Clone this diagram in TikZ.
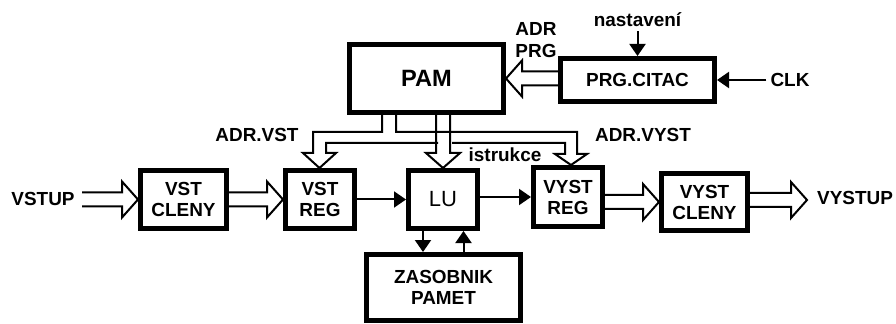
\documentclass[tikz,border=0pt]{standalone}
\usepackage{fontspec}
\setmainfont{Liberation Sans}
\usetikzlibrary{arrows.meta,calc}

\newcommand\busgap{5.25pt}
\newcommand\buslen{12pt}
\newcommand\buswid{13.5pt}

\tikzset{
  blok/.style={draw, line width=3.75pt, fill=white, inner sep=0pt, align=center,
    font=\bfseries\fontsize{14.2}{15.75}\selectfont},
  popis/.style={inner sep=3pt, align=center, font=\bfseries\fontsize{14.2}{17}\selectfont},
  wire/.style={line width=1.5pt},
  sig/.style={wire, -{Triangle[length=9pt,width=12pt]}},
  % hollow double-line bus arrows
  busr/.style={to path={let \p1=(\tikztostart), \p2=(\tikztotarget) in
    (\x1,\y2+\busgap) -- (\x2-\buslen,\y2+\busgap) -- (\x2-\buslen,\y2+\buswid) -- (\x2,\y2)
    -- (\x2-\buslen,\y2-\buswid) -- (\x2-\buslen,\y2-\busgap) -- (\x1,\y2-\busgap)}},
  busl/.style={to path={let \p1=(\tikztostart), \p2=(\tikztotarget) in
    (\x1,\y2+\busgap) -- (\x2+\buslen,\y2+\busgap) -- (\x2+\buslen,\y2+\buswid) -- (\x2,\y2)
    -- (\x2+\buslen,\y2-\buswid) -- (\x2+\buslen,\y2-\busgap) -- (\x1,\y2-\busgap)}},
  busd/.style={to path={let \p1=(\tikztostart), \p2=(\tikztotarget) in
    (\x2-\busgap,\y1) -- (\x2-\busgap,\y2-11.25pt) -- (\x2-12.75pt,\y2-11.25pt) -- (\x2,\y2)
    -- (\x2+12.75pt,\y2-11.25pt) -- (\x2+\busgap,\y2-11.25pt) -- (\x2+\busgap,\y1)}}
}

\begin{document}
\begin{tikzpicture}[x=0.75pt,y=0.75pt,yscale=-1,xscale=1]
\useasboundingbox (0,0) rectangle (896,324);

%Shape: Rectangle [PAM]
\node[blok, minimum width=154*0.75pt, minimum height=68*0.75pt,
  font=\bfseries\fontsize{17.7}{20}\selectfont] (pam) at (426.5,78.5) {PAM};
%Shape: Rectangle [PRG.CITAC]
\node[blok, minimum width=154*0.75pt, minimum height=43*0.75pt] (prg) at (637.5,80) {PRG.CITAC};
%Shape: Rectangle [VST CLENY]
\node[blok, minimum width=86*0.75pt, minimum height=58*0.75pt] (vstcl) at (183.5,199.5) {VST\\CLENY};
%Shape: Rectangle [VST REG]
\node[blok, minimum width=69*0.75pt, minimum height=58*0.75pt] (vstreg) at (320,199.5) {VST\\REG};
%Shape: Rectangle [LU]
\node[blok, minimum width=69*0.75pt, minimum height=58*0.75pt,
  font=\fontsize{16.5}{18}\selectfont] (lu) at (443,199.5) {LU};
%Shape: Rectangle [VYST REG]
\node[blok, minimum width=69*0.75pt, minimum height=59*0.75pt] (vystreg) at (568,197) {VYST\\REG};
%Shape: Rectangle [VYST CLENY]
\node[blok, minimum width=86*0.75pt, minimum height=57*0.75pt] (vystcl) at (704.5,202) {VYST\\CLENY};
%Shape: Rectangle [ZASOBNIK]
\node[blok, minimum width=154*0.75pt, minimum height=66*0.75pt] (zas) at (443.5,287.5) {ZASOBNIK\\PAMET};

% Text Node
\node[popis] (vstup) at (43,199) {VSTUP};
% Text Node
\node[popis] (vystup) at (855,198) {VYSTUP};
% Text Node
\node[popis] (nast) at (637.5,20) {nastavení};
% Text Node
\node[popis] (clk) at (790,80) {CLK};
% Text Node
\node[popis] (adrprg) at (536,40) {ADR\\PRG};
% Text Node
\node[popis] (adrvst) at (257,135) {ADR.VST};
% Text Node
\node[popis] (adrvyst) at (643,135) {ADR.VYST};
% Text Node
\node[popis] (istr) at (505,155) {istrukce};

\coordinate (vin) at (82,200);
\coordinate (vout) at (807,200);

%Buses
\draw[wire] (vin) to[busr] (vstcl.west);
\draw[wire] (vstcl.east) to[busr] (vstreg.west);
\draw[wire] (vystreg.east) to[busr] (vystcl.west);
\draw[wire] (vystcl.east) to[busr] (vout);
\draw[wire] (prg.west) to[busl] (pam.east);
\draw[wire] (lu.north |- pam.south) to[busd] (lu.north);

%Bus ADR.VST / ADR.VYST
\draw[wire] (382,115) -- (382,132) -- (313,132) -- (313,153) -- (303,153) -- (319.5,168)
  -- (336,153) -- (326,153) -- (326,143) -- (438,143);
\draw[wire] (452,143) -- (565,143) -- (565,154) -- (555,154) -- (571,165)
  -- (587,154) -- (577,154) -- (577,132) -- (396,132) -- (396,115);

%Signals
\draw[sig] (nast.south) -- (prg.north);
\draw[sig] (clk.west) -- (prg.east);
\draw[sig] (vstreg.east) -- (lu.west);
\draw[sig] (lu.east |- vystreg.west) -- (vystreg.west);
\draw[sig] ([xshift=-15pt]lu.south) -- ([xshift=-15pt]lu.south |- zas.north);
\draw[sig] ([xshift=15pt]zas.north) -- ([xshift=15pt]zas.north |- lu.south);
\end{tikzpicture}
\end{document}
